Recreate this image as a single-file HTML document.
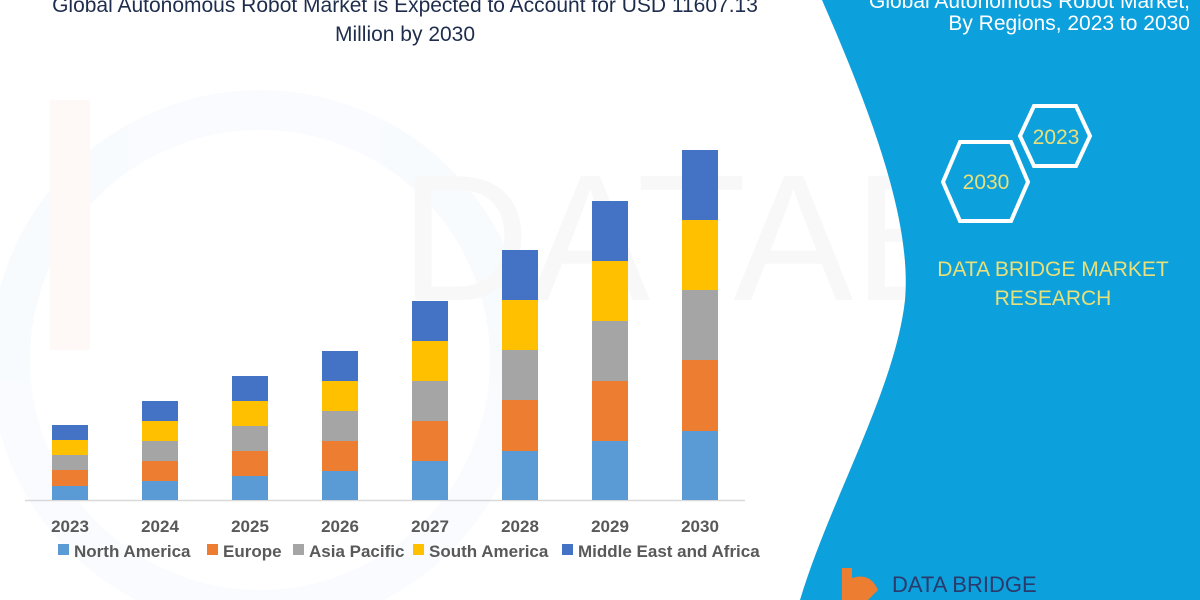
<!DOCTYPE html>
<html><head><meta charset="utf-8"><style>
html,body{margin:0;padding:0;background:#fff;}
svg{display:block;}
text{font-family:"Liberation Sans",sans-serif;}
</style></head><body>
<svg width="1200" height="600" viewBox="0 0 1200 600" xmlns="http://www.w3.org/2000/svg">
<rect width="1200" height="600" fill="#fff"/>
<g opacity="0.035">
<circle cx="260" cy="360" r="250" fill="none" stroke="#5b9bd5" stroke-width="40"/>
<rect x="50" y="100" width="40" height="250" fill="#ed7d31"/>
<text x="400" y="300" font-size="180" fill="#555">DATABRIDGE</text>
</g>
<path d="M822,0 L1200,0 L1200,600 L800,600 C830,500 895,390 905,300 C912,220 870,110 822,0 Z" fill="#0ca0dc"/>
<text x="1190" y="8" font-size="21" fill="#fff" text-anchor="end">Global Autonomous Robot Market,</text>
<text x="1190" y="30" font-size="21" fill="#fff" text-anchor="end">By Regions, 2023 to 2030</text>
<polygon points="1034,106 1076,106 1090,136 1076,166 1034,166 1020,136" fill="none" stroke="#fff" stroke-width="4"/>
<text x="1056" y="144" font-size="21" fill="#e8e07a" text-anchor="middle">2023</text>
<polygon points="960,142 1011,142 1028,182 1011,221 960,221 943,182" fill="none" stroke="#fff" stroke-width="4"/>
<text x="986" y="189" font-size="21" fill="#e8e07a" text-anchor="middle">2030</text>
<text x="1053" y="276" font-size="21" fill="#e8e07a" text-anchor="middle">DATA BRIDGE MARKET</text>
<text x="1053" y="305" font-size="21" fill="#e8e07a" text-anchor="middle">RESEARCH</text>
<path d="M842,568 L852,568 L852,578 Q870,572 878,590 L868,600 L842,600 Z" fill="#ed7d31"/>
<text x="892" y="592" font-size="22" fill="#2a3a6a" font-family="Liberation Serif,serif">DATA BRIDGE</text>
<text x="405" y="12" font-size="21" fill="#1f2d4d" text-anchor="middle">Global Autonomous Robot Market is Expected to Account for USD 11607.13</text>
<text x="405" y="41" font-size="21" fill="#1f2d4d" text-anchor="middle">Million by 2030</text>
<line x1="25" y1="500.5" x2="745" y2="500.5" stroke="#d9d9d9" stroke-width="1.5"/>
<g>
<rect x="52" y="486" width="36" height="14" fill="#5b9bd5"/><rect x="52" y="470" width="36" height="16" fill="#ed7d31"/><rect x="52" y="455" width="36" height="15" fill="#a5a5a5"/><rect x="52" y="440" width="36" height="15" fill="#ffc000"/><rect x="52" y="425" width="36" height="15" fill="#4472c4"/>
<rect x="142" y="481" width="36" height="19" fill="#5b9bd5"/><rect x="142" y="461" width="36" height="20" fill="#ed7d31"/><rect x="142" y="441" width="36" height="20" fill="#a5a5a5"/><rect x="142" y="421" width="36" height="20" fill="#ffc000"/><rect x="142" y="401" width="36" height="20" fill="#4472c4"/>
<rect x="232" y="476" width="36" height="24" fill="#5b9bd5"/><rect x="232" y="451" width="36" height="25" fill="#ed7d31"/><rect x="232" y="426" width="36" height="25" fill="#a5a5a5"/><rect x="232" y="401" width="36" height="25" fill="#ffc000"/><rect x="232" y="376" width="36" height="25" fill="#4472c4"/>
<rect x="322" y="471" width="36" height="29" fill="#5b9bd5"/><rect x="322" y="441" width="36" height="30" fill="#ed7d31"/><rect x="322" y="411" width="36" height="30" fill="#a5a5a5"/><rect x="322" y="381" width="36" height="30" fill="#ffc000"/><rect x="322" y="351" width="36" height="30" fill="#4472c4"/>
<rect x="412" y="461" width="36" height="39" fill="#5b9bd5"/><rect x="412" y="421" width="36" height="40" fill="#ed7d31"/><rect x="412" y="381" width="36" height="40" fill="#a5a5a5"/><rect x="412" y="341" width="36" height="40" fill="#ffc000"/><rect x="412" y="301" width="36" height="40" fill="#4472c4"/>
<rect x="502" y="451" width="36" height="49" fill="#5b9bd5"/><rect x="502" y="400" width="36" height="51" fill="#ed7d31"/><rect x="502" y="350" width="36" height="50" fill="#a5a5a5"/><rect x="502" y="300" width="36" height="50" fill="#ffc000"/><rect x="502" y="250" width="36" height="50" fill="#4472c4"/>
<rect x="592" y="441" width="36" height="59" fill="#5b9bd5"/><rect x="592" y="381" width="36" height="60" fill="#ed7d31"/><rect x="592" y="321" width="36" height="60" fill="#a5a5a5"/><rect x="592" y="261" width="36" height="60" fill="#ffc000"/><rect x="592" y="201" width="36" height="60" fill="#4472c4"/>
<rect x="682" y="431" width="36" height="69" fill="#5b9bd5"/><rect x="682" y="360" width="36" height="71" fill="#ed7d31"/><rect x="682" y="290" width="36" height="70" fill="#a5a5a5"/><rect x="682" y="220" width="36" height="70" fill="#ffc000"/><rect x="682" y="150" width="36" height="70" fill="#4472c4"/>
</g>
<g font-size="17" font-weight="bold" fill="#595959" text-anchor="middle">
<text x="70" y="532">2023</text><text x="160" y="532">2024</text><text x="250" y="532">2025</text><text x="340" y="532">2026</text><text x="430" y="532">2027</text><text x="520" y="532">2028</text><text x="610" y="532">2029</text><text x="700" y="532">2030</text>
</g>
<g font-size="17" font-weight="bold" fill="#595959">
<rect x="58" y="544" width="11" height="11" fill="#5b9bd5"/><text x="74" y="557">North America</text>
<rect x="207" y="544" width="11" height="11" fill="#ed7d31"/><text x="223" y="557">Europe</text>
<rect x="293" y="544" width="11" height="11" fill="#a5a5a5"/><text x="309" y="557">Asia Pacific</text>
<rect x="413" y="544" width="11" height="11" fill="#ffc000"/><text x="429" y="557">South America</text>
<rect x="562" y="544" width="11" height="11" fill="#4472c4"/><text x="578" y="557">Middle East and Africa</text>
</g>
</svg>
</body></html>
